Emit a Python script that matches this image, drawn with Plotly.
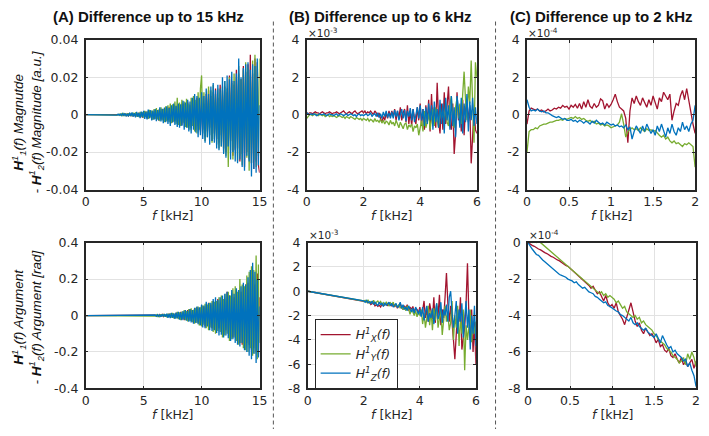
import plotly.graph_objects as go

# ---------------- data ----------------
# frequency grids (kHz): step of each panel's sampling, starting at 0
FREQ_A_STEP = 0.1
FREQ_B_STEP = 0.05
FREQ_C_STEP = 0.025

SERIES_NAMES = ["H<sup>1</sup><sub>X</sub>(f)", "H<sup>1</sup><sub>Y</sub>(f)", "H<sup>1</sup><sub>Z</sub>(f)"]

# (A) magnitude difference, units of 1e-3 a.u.
magA_x = [0,0,0,0,0,0,0,0,0,0,
          0,0,0,0,0,0,0,0,0,0,
          0,0,0,0,0,0,0,0,-.2,.2,
          0,-.3,.3,-.2,.4,-.5,.3,-.6,.5,-.4,
          .6,-.8,.5,-1,.7,-.6,1,-1.2,.8,-1.5,
          1.2,-1,1.6,-2,1,-1.5,2,-1.8,1.5,-2.2,
          2.5,-1.5,2,-3,1.8,-2.5,3,-2,2.6,-3.5,
          3,-2.8,4,-3,3.5,-4,2.5,-3.2,4.5,-3.8,
          5,-3,4,-5.5,6,-4,3.5,-5,7,-6,
          5,-7,8,-4,6,-8,9,-6,7,-9,
          10,-8,6,-12,11,-9,13,-7,10,-14,
          12,-10,14,-13,9,-15,16,-11,13,-18,
          15,-20,12,-17,21,-14,18,-22,16,-19,
          24,-18,22,-25,19,-21,26,-28,23,-20,
          27,-24,32,-26,22,-29,30,-25,28,-27,
          -31]
magA_y = [0,0,0,0,0,0,0,0,0,0,
          0,0,0,0,0,0,0,0,0,0,
          0,0,0,0,0,0,0,.2,-.2,.3,
          -.3,.5,-.4,.6,-.5,.4,-.7,.8,-.5,.6,
          -.8,1,-.6,1.2,-1,.9,-1.3,1.5,-1,1.3,
          -1.6,2,-1.2,1.8,-2.3,2.6,-1.5,2.2,-2.8,3,
          -2.2,3.5,-2.5,2.8,-3.5,4,-3,3.2,-4,4.5,
          -3.5,5,-4,6,-4.5,5.5,-3.8,7,-5,9,
          -5.5,6.5,-6,8,-4.5,7,-6.5,8.5,-7,6,
          -8,9,-6,10,-9,8,-10,12,-8,14,
          21,-10,12,-14,9,-12,15,-11,13,-15,
          16,-13,11,-16,14,-18,12,-17,15,-20,
          18,-22,14,-28,20,-19,17,-24,22,-18,
          20,-25,26,-22,19,-27,24,-20,28,-23,
          25,-30,21,-26,29,-24,32,-28,26,-22,
          30]
magA_z = [0,0,0,0,0,0,0,0,0,0,
          0,0,0,0,0,0,0,0,0,0,
          0,0,0,0,0,0,.2,-.2,.3,-.3,
          .4,-.5,.6,-.4,.7,-.8,.5,-.9,1,-.7,
          1.2,-1,.8,-1.4,1.5,-1.2,1,-1.8,1.6,-1.3,
          2,-2.2,1.5,-2.5,2.8,-2,2.4,-3,2.2,-2.6,
          3,-3.5,2.5,-3,4,-3.6,3.2,-4.5,3.8,-4,
          4.5,-5,3.5,-6,5,-4.2,6,-5.5,4.8,-6.5,
          6,-7,5.5,-6,7.5,-8,6.5,-7,8,-9,
          7,-10,9,-8,11,-9.5,10,-12,9,-11,
          12,-13,10,-15,14,-12,11,-16,15,-14,
          17,-15,13,-18,16,-19,14,-17,20,-21,
          18,-23,21,-17,19,-24,23,-20,18,-25,
          22,-26,30,-24,20,-28,25,-30,27,-22,
          28,-25,24,-33,27,-29,26,-31,30,-27,
          5]

# (A) argument difference, units of 1e-2 rad
argA_x = [0,0,0,0,0,0,0,0,0,0, 0,0,0,0,0,0,0,0,0,0, 0,0,0,0,0,0,0,0,0,0,
          0,0,0,0,0,0,0,0,0,0, 0,0,0,0,0,0,0,0,0,0, 0,0,0,0,0,0,0,0,0,0,
          .2,-.3,.3,-.4,.5,-.3,.6,-.5,.4,-.6,
          .7,-.8,1,-.9,1.2,-1,.8,-1.3,1.5,-1.1,
          1.8,-1.5,2,-2.2,1.5,-2.5,2.8,-2,3,-2.6,
          3.5,-2.8,3,-4,3.6,-3.2,4.5,-3.8,4,-5,
          5.5,-4,5,-6,4.5,-5.5,7,-5,6,-7,
          8,-6,7,-8.5,9,-7,6.5,-9,8,-10,
          9,-8,13,-10,11,-9,12,-12,10,-11,
          14,-12,11,-15,13,-16,12,-14,17,-15,
          18,-16,20,-19,22,-18,17,-20,23,-22,
          10]
argA_y = [0,0,0,0,0,0,0,0,0,0, 0,0,0,0,0,0,0,0,0,0, 0,0,0,0,0,0,0,0,0,0,
          0,0,0,0,0,0,0,0,0,0, 0,0,0,0,0,0,0,0,0,0, 0,0,0,0,0,0,0,0,0,0,
          -.3,.4,-.5,.3,-.6,.7,-.4,.8,-.6,.5,
          -.9,1,-.7,1.2,-1.1,1.4,-1.5,1,-1.6,2,
          -2,1.8,-2.5,2.2,-1.8,3,-2.6,2.4,-3.2,3.5,
          -3,4,-3.5,3.2,-4.5,4.2,-4,5,-5.5,4.5,
          -6,5.5,-5,6.5,-7,6,-8,7,-6.5,8,
          -9,7.5,-10,8,-8.5,10,-9,11,-12,9,
          -11,12,-10,13,-14,11,-13,15,-12,16,
          -14,13,-16,20,-15,17,-18,16,-19,22,
          -20,24,-18,27,-22,25,-21,33,-24,28,
          -15]
argA_z = [0,0,0,0,0,0,0,0,0,0, 0,0,0,0,0,0,0,0,0,0, 0,0,0,0,0,0,0,0,0,0,
          0,0,0,0,0,0,0,0,0,0, 0,0,0,0,0,0,0,0,0,0, 0,0,0,0,0,0,0,0,0,0,
          .3,-.4,.5,-.5,.4,-.6,.7,-.5,.8,-.7,
          1,-1.2,.9,-1.4,1.5,-1.3,1.2,-1.8,1.6,-1.5,
          2,-2.2,1.8,-2.6,2.5,-2.3,3,-2.8,2.6,-3.4,
          3.5,-3.8,3,-4.5,4.2,-4,5,-4.8,4.5,-5.5,
          6,-6.5,5.5,-7,7.5,-6,6.8,-8,7,-8.5,
          9,-8,10,-9.5,8.5,-11,10,-10.5,11,-12,
          12,-11,13,-12.5,11,-14,14,-13,12,-15,
          15,-16,14,-17,16,-15,18,-19,17,-20,
          21,-22,25,-24,29,-21,24,-26,20,-23,
          5]

# (B) magnitude difference, units of 1e-3
magB_x = [.1,.05,.1,.1,.05,.1,.15,.1,.1,.05,.1,.15,.1,.05,.1,.1,.15,.1,.05,.1,
          .1,.15,.1,.05,.1,.15,.2,.1,.05,.1,.15,.1,.05,.15,.2,.1,.05,.1,.15,.2,
          .1,.2,.05,.15,.1,.2,.1,0,.2,.1,-.1,.1,-.2,-.4,-.1,-.3,.1,-.2,.2,-.1,
          .2,-.1,.3,-.3,.2,-.2,.4,-.3,.1,.3,-.4,.5,-.5,.2,-.6,.3,-.2,-.5,.4,-.3,
          .6,-.6,.3,-.8,.5,-.4,.8,-.9,1.1,-.5,.4,-.7,1.7,-.3,-1,.6,-.8,1.2,-.5,.3,
          1.5,-.5,-.8,.6,-2.1,-1,1.2,-.3,.5,-.9,.8,-1.1,.3,.8,-.4,.5,-2.6,-1.2,.3,-.8,
          -1]
magB_y = [-.2,-.1,0,0,-.05,0,.05,0,-.05,0,0,-.05,0,-.1,-.05,0,-.1,-.05,-.1,-.05,
          -.1,-.15,-.1,-.05,-.1,-.15,-.1,-.2,-.1,-.15,-.2,-.1,-.15,-.2,-.25,-.15,-.2,-.25,-.2,-.3,
          -.2,-.25,-.3,-.2,-.35,-.25,-.3,-.4,-.2,-.35,-.3,-.4,-.25,-.45,-.3,-.5,-.35,-.4,-.55,-.3,
          -.5,-.4,-.6,-.3,-.55,-.7,-.4,-.6,-.75,-.5,-.45,-.8,-.55,-.65,-.5,-.9,-.6,-.7,-.5,-1.1,
          -.6,-.3,-.9,.2,-.7,-.4,.1,-.8,-.2,.3,-.6,.4,-.3,-.7,.5,-.2,.2,-.5,.6,-.4,
          -.6,.5,1,-.3,-.7,.4,.9,-.2,.6,-.5,1.1,2.3,.8,-.3,1.5,.6,2.9,.7,-1.5,2.8,
          2]
magB_z = [.1,.05,0,.05,0,.05,0,-.05,0,.05,0,0,.05,0,-.05,0,.05,0,0,-.05,
          0,.05,-.05,0,.05,0,-.05,0,.05,-.05,0,.05,0,-.05,0,-.1,0,.05,-.05,0,
          -.05,0,.05,-.05,0,.1,-.1,0,.05,-.1,.1,-.15,.05,-.2,.15,-.1,.2,-.15,.1,-.2,
          .15,-.2,.25,-.1,.2,-.3,.1,.3,-.2,.25,-.35,.2,-.1,.35,-.3,.3,-.4,.1,.4,-.2,
          .5,-.3,.3,-.6,.4,-.5,.6,-.3,.5,-.8,.7,-.4,.3,-.7,.8,-.5,.6,-1,.9,-.3,
          .5,-.8,1,-.6,.4,-1.2,1,.3,-.7,.9,-1,.6,-.4,1.1,-.9,.7,-.3,.9,-.6,.4,
          -.5]

# (B) argument difference, units of 1e-3 rad
argB_x = [0,-.02,-.04,-.07,-.08,-.1,-.13,-.14,-.16,-.19,-.2,-.22,-.25,-.26,-.28,-.31,-.32,-.34,-.37,-.38,
          -.4,-.43,-.44,-.46,-.49,-.5,-.52,-.55,-.56,-.58,-.61,-.62,-.64,-.67,-.68,-.7,-.73,-.74,-.76,-.79,
          -.8,-.85,-.8,-.95,-.9,-1.1,-1,-.95,-1.2,-1.1,-1.25,-1.15,-1.3,-1.05,-1.2,-1.1,-1,-1.2,-.95,-1.15,
          -1.2,-1,-1.3,-1.1,-1.4,-1.2,-1,-1.35,-1.5,-1.2,-1.4,-1.1,-1.6,-1.3,-1.5,-1.25,-1.7,-1.4,-1.5,-1.8,
          -1.3,-2,-1.6,-.8,-2.2,-1.5,-2.5,-1,-1.8,-2.3,-.5,-2.6,-1.2,-2,-.3,-2.8,-1.5,-2.2,-.5,1.5,
          -1,-2.5,-1.2,-3,-4,-5.6,-3.5,-1.5,-2.5,-.5,-4.8,-4,-3,-1,2.3,-2,-4,-1.5,-5,-2.5,
          -6]
argB_y = [0,-.02,-.05,-.06,-.08,-.11,-.12,-.14,-.17,-.18,-.2,-.23,-.24,-.26,-.29,-.3,-.32,-.35,-.36,-.38,
          -.41,-.42,-.44,-.47,-.48,-.5,-.53,-.54,-.56,-.59,-.6,-.62,-.65,-.66,-.68,-.71,-.72,-.74,-.77,-.78,
          -.8,-.75,-.9,-.7,-1,-.85,-.95,-.75,-1.05,-.9,-.8,-1,-.85,-1.1,-.95,-1.15,-.9,-1.05,-1.2,-.95,
          -1.1,-.9,-1.25,-1.05,-1.3,-1.1,-1.4,-1.2,-1.5,-1.3,-1.6,-1.2,-1.45,-1.9,-1.5,-1.7,-2,-1.6,-2.1,-1.7,
          -2,-1.5,-2.7,-1.8,-3,-2.2,-1.2,-2.8,-1.6,-3.2,-1.4,-2.4,-1,-3,-2,-1.5,-3.6,-2.1,-1.2,-2.5,
          -1.8,-3.2,-2.6,-.8,-4,-2,-3,-1.2,-4.5,-2.2,-3.5,-1.5,-6.5,-2.8,-4,-3,-1.5,-4.2,-2.5,-3.5,
          -2.5]
argB_z = [0,-.02,-.04,-.06,-.09,-.1,-.12,-.15,-.16,-.18,-.21,-.22,-.24,-.27,-.28,-.3,-.33,-.34,-.36,-.39,
          -.4,-.42,-.45,-.46,-.48,-.51,-.52,-.54,-.57,-.58,-.6,-.63,-.64,-.66,-.69,-.7,-.72,-.75,-.76,-.78,
          -.8,-.9,-.75,-.95,-.85,-1,-.8,-1.1,-.9,-1.05,-1.2,-.9,-1.1,-1,-1.25,-.95,-1.15,-1.05,-.9,-1.2,
          -1,-1.3,-1.15,-1,-1.35,-1.2,-.9,-1.4,-1.1,-1.5,-1.3,-1.6,-1.2,-1.5,-1.7,-1.4,-1.8,-1.3,-1.6,-1.9,
          -1.5,-2.1,-1.3,-2.4,-1.7,-1.2,-2.5,-1.8,-2.2,-1.4,-2.7,-1.6,-1,-2.3,-1.9,-.9,-2.6,-1.5,-2,-1.1,
          -2.5,-.5,0,-1.8,-3,-2,-.8,-3.5,-1.5,-2.5,-1,-3.8,-2.2,-.8,-3,-1.5,-4.8,-2,-3.5,-1.2,
          -4.5]

# (C) magnitude difference, units of 1e-4
magC_x = [-.5,.2,.35,.3,.25,.3,.2,.25,.15,.2,.3,.2,.25,.35,.3,.4,.35,.5,.4,.45,
          .3,.5,.4,.55,.35,.6,.3,.7,.4,.8,.45,.35,.6,.4,.5,.85,.75,.3,.6,.4,
          .55,.8,1.1,.7,.4,.3,.2,-.2,-1.5,.2,.9,.6,1,.7,.5,.9,.6,.4,.8,.5,
          1,.6,.3,.9,.7,1.2,1,.8,1.1,-.3,.2,.6,.5,1,1.3,.8,1.4,.7,.2,-.5,
          -1]
magC_y = [-2,-.9,-.8,-.8,-.7,-.75,-.6,-.55,-.5,-.5,-.45,-.4,-.4,-.35,-.3,-.3,-.25,-.3,-.2,-.25,
          -.2,-.15,-.2,-.1,-.2,-.15,-.25,-.2,-.3,-.35,-.3,-.4,-.35,-.5,-.45,-.55,-.5,-.6,-.55,-.6,
          -.7,-.65,-.6,-.55,-.4,.05,-.5,-1.2,-.9,-.8,-.7,-.8,-.75,-.85,-.7,-.8,-.9,-.75,-.85,-.8,
          -.9,-.85,-1,-1.1,-1.2,-1.1,-1.3,-1.2,-1.4,-1.5,-1.4,-1.55,-1.5,-1.6,-1.7,-1.55,-1.6,-1.5,-1.6,-1.7,
          -2.8]
magC_z = [.8,.4,.2,.25,.2,.3,.2,.15,.2,.1,.1,0,-.05,-.1,-.15,-.1,-.2,-.25,-.2,-.3,
          -.3,-.25,-.35,-.3,-.4,-.3,-.35,-.45,-.35,-.4,-.5,-.35,-.45,-.3,-.4,-.5,-.45,-.55,-.4,-.5,
          -.55,-.5,-.6,-.55,-.65,-.6,-.7,-.55,-.8,-.65,-1.3,-.9,-.6,-.8,-1,-.6,-.9,-.5,-.8,-1,
          -.8,-1.1,-.6,-.9,-.5,-.8,-1.2,-.7,-1,-.5,-.9,-1.1,-.7,-.9,-.4,-.8,-.6,-.9,-.5,-.3,
          .5]

# (C) argument difference, units of 1e-4 rad
argC_x = [0,-.1,-.15,-.2,-.3,-.35,-.4,-.5,-.55,-.6,-.7,-.75,-.8,-.9,-.95,-1,-1.1,-1.15,-1.25,-1.3,
          -1.4,-1.5,-1.6,-1.7,-1.8,-1.9,-2,-2.1,-2.2,-2.35,-2.5,-2.4,-2.6,-2.8,-2.7,-3,-3.2,-2.9,-3.3,-3.5,
          -3.4,-3.6,-3.3,-3.8,-4,-4.2,-4.5,-4.1,-3.8,-3.3,-3.8,-4.3,-4.6,-4.4,-4.8,-5,-4.7,-4.9,-5.1,-5,
          -5.2,-5.5,-5.3,-5.7,-5.6,-5.9,-6,-5.8,-6.2,-6.3,-6.1,-6.4,-6.6,-6.3,-6.7,-6.5,-6.8,-6.6,-6.4,-6.9,
          -6.5]
argC_y = [0,.05,0,.05,0,.05,0,-.1,-.15,-.25,-.35,-.45,-.55,-.65,-.75,-.85,-.95,-1.05,-1.15,-1.25,
          -1.35,-1.45,-1.55,-1.65,-1.75,-1.85,-2,-2.1,-2.2,-2.3,-2.4,-2.5,-2.6,-2.7,-2.8,-2.7,-2.9,-2.8,-3,-2.9,
          -3,-3.1,-3.3,-3.2,-3.4,-3.6,-3.5,-3.8,-3.9,-4,-4.1,-4,-4.2,-4.1,-4.4,-4.3,-4.5,-4.6,-4.7,-4.8,
          -5,-5.1,-5.3,-5.4,-5.5,-5.6,-5.8,-5.9,-6,-6.2,-6.3,-6.4,-6.6,-6.5,-6.3,-6.7,-6.1,-6.4,-6,-6.3,
          -6.8]
argC_z = [0,-.2,-.35,-.5,-.65,-.7,-.85,-.95,-1.05,-1.15,-1.25,-1.4,-1.5,-1.55,-1.7,-1.75,-1.8,-1.85,-1.9,-2,
          -2.05,-2.1,-2.2,-2.15,-2.3,-2.4,-2.5,-2.45,-2.6,-2.7,-2.75,-2.8,-2.95,-3,-3.1,-3.2,-3.3,-3.25,-3.45,-3.5,
          -3.6,-3.7,-3.75,-3.8,-3.95,-4,-4.1,-4.2,-4.3,-4.1,-4.4,-4.5,-4.4,-4.6,-4.7,-4.8,-4.7,-4.9,-5,-5.1,
          -5.2,-5,-5.3,-5.5,-5.1,-5.4,-5.6,-5.8,-5.7,-6,-5.9,-6.1,-6.2,-6.3,-6.5,-6.4,-6.8,-6.6,-7,-7.3,
          -7.9]

# axis ticks
XT_A = [0, 5, 10, 15]
XT_B = [0, 2, 4, 6]
XT_C = [0, 0.5, 1, 1.5, 2]
YT_A_MAG = [-0.04, -0.02, 0, 0.02, 0.04]
YT_A_ARG = [-0.4, -0.2, 0, 0.2, 0.4]
YT_B_MAG = [-4, -2, 0, 2, 4]
YT_B_ARG = [-8, -6, -4, -2, 0, 2, 4]
YT_C_MAG = [-4, -2, 0, 2, 4]
YT_C_ARG = [-8, -6, -4, -2, 0]

# ---------------- styling ----------------
COLORS = ["#A2142F", "#77AC30", "#0072BD"]
W, H = 709, 436
AX = "#262626"
GRID = "#e2e2e2"
TICKFONT = dict(family="DejaVu Sans", size=12.5, color=AX)

def px_x(p):
    return p / W

def px_y(p):
    return 1 - p / H

# panel pixel boxes: (left, right, top, bottom)
boxes = [
    (83, 260, 33, 188), (308, 481, 33, 188), (532, 703, 33, 188),
    (83, 260, 243, 394), (309, 480, 243, 394), (533, 704, 243, 394),
]

panels = [
    (FREQ_A_STEP, [[v * 1e-3 for v in s] for s in (magA_x, magA_y, magA_z)], XT_A, [0, 15], YT_A_MAG, [-0.04, 0.04]),
    (FREQ_B_STEP, [magB_x, magB_y, magB_z], XT_B, [0, 6], YT_B_MAG, [-4, 4]),
    (FREQ_C_STEP, [magC_x, magC_y, magC_z], XT_C, [0, 2], YT_C_MAG, [-4, 4]),
    (FREQ_A_STEP, [[v * 1e-2 for v in s] for s in (argA_x, argA_y, argA_z)], XT_A, [0, 15], YT_A_ARG, [-0.4, 0.4]),
    (FREQ_B_STEP, [argB_x, argB_y, argB_z], XT_B, [0, 6], YT_B_ARG, [-8, 4]),
    (FREQ_C_STEP, [argC_x, argC_y, argC_z], XT_C, [0, 2], YT_C_ARG, [-8, 0]),
]

def lab(v):
    return f"{v:g}"

fig = go.Figure()
layout = {}
for i, (step, series, xt, xr, yt, yr) in enumerate(panels):
    k = "" if i == 0 else str(i + 1)
    for j, ys in enumerate(series):
        fig.add_trace(go.Scatter(
            x0=0, dx=step, y=ys, mode="lines",
            line=dict(color=COLORS[j], width=1.3),
            name="<i>" + SERIES_NAMES[j] + "</i>",
            showlegend=(i == 4),
            xaxis="x" + k, yaxis="y" + k,
        ))
    l, r, t, b = boxes[i]
    common = dict(showline=True, linecolor=AX, linewidth=1.5, mirror="allticks",
                  ticks="inside", ticklen=3, tickcolor=AX, showgrid=True,
                  gridcolor=GRID, gridwidth=1, zeroline=False, tickfont=TICKFONT)
    layout["xaxis" + k] = dict(domain=[px_x(l), px_x(r)], range=xr, anchor="y" + k,
                               tickvals=xt, ticktext=[lab(v) for v in xt], **common)
    layout["yaxis" + k] = dict(domain=[px_y(b), px_y(t)], range=yr, anchor="x" + k,
                               tickvals=yt, ticktext=[lab(v) for v in yt],
                               ticklabelstandoff=3, **common)

ann = []
TITLE_FONT = dict(family="Liberation Sans", size=15, color="#111111")
for txt, cx in [("<b>(A) Difference up to 15 kHz</b>", 147),
                ("<b>(B) Difference up to 6 kHz</b>", 383),
                ("<b>(C) Difference up to 2 kHz</b>", 608)]:
    ann.append(dict(text=txt, x=px_x(cx), y=px_y(9), xref="paper", yref="paper",
                    showarrow=False, font=TITLE_FONT, xanchor="center", yanchor="middle"))

XLAB_FONT = dict(family="DejaVu Sans", size=12.5, color=AX)
for (l, r, t, b) in boxes:
    ann.append(dict(text="<i>f</i> [kHz]", x=px_x((l + r) / 2), y=px_y(b + 27),
                    xref="paper", yref="paper", showarrow=False, font=XLAB_FONT,
                    xanchor="center", yanchor="middle"))

EXP = ["×10<sup>-3</sup>", "×10<sup>-4</sup>", "×10<sup>-3</sup>", "×10<sup>-4</sup>"]
for e, bi in zip(EXP, [1, 2, 4, 5]):
    l, r, t, b = boxes[bi]
    ann.append(dict(text=e, x=px_x(l - 1), y=px_y(t - 8), xref="paper", yref="paper",
                    showarrow=False, font=dict(family="DejaVu Sans", size=10.5, color=AX),
                    xanchor="left", yanchor="middle"))

YLAB_FONT = dict(family="Liberation Sans", size=13.5, color="#111111")
for lines, cy in [(("<i><b>H</b><sup>1</sup><sub>1</sub>(f) Magnutde</i>",
                    "<i>- <b>H</b><sup>1</sup><sub>2</sub>(f) Magnitude [a.u.]</i>"), 118),
                  (("<i><b>H</b><sup>1</sup><sub>1</sub>(f) Argument</i>",
                    "<i>- <b>H</b><sup>1</sup><sub>2</sub>(f) Argument [rad]</i>"), 320)]:
    for txt, cx in zip(lines, (15, 33)):
        ann.append(dict(text=txt, x=px_x(cx), y=px_y(cy), xref="paper", yref="paper",
                        showarrow=False, font=YLAB_FONT, textangle=-90,
                        xanchor="center", yanchor="middle"))

shapes = [dict(type="line", xref="paper", yref="paper", x0=px_x(xx), x1=px_x(xx),
               y0=px_y(14), y1=0, line=dict(color="#555555", width=1, dash="4px,3px"))
          for xx in (274, 500)]

fig.update_layout(
    width=W, height=H, margin=dict(l=0, r=0, t=0, b=0), autosize=False,
    paper_bgcolor="white", plot_bgcolor="white",
    annotations=ann, shapes=shapes,
    legend=dict(x=px_x(316), y=px_y(322), xanchor="left", yanchor="top",
                bordercolor=AX, borderwidth=1, bgcolor="white",
                font=dict(family="DejaVu Sans", size=12.5, color=AX),
                tracegroupgap=0, itemwidth=30),
    **layout,
)

fig.write_html("out.html")
